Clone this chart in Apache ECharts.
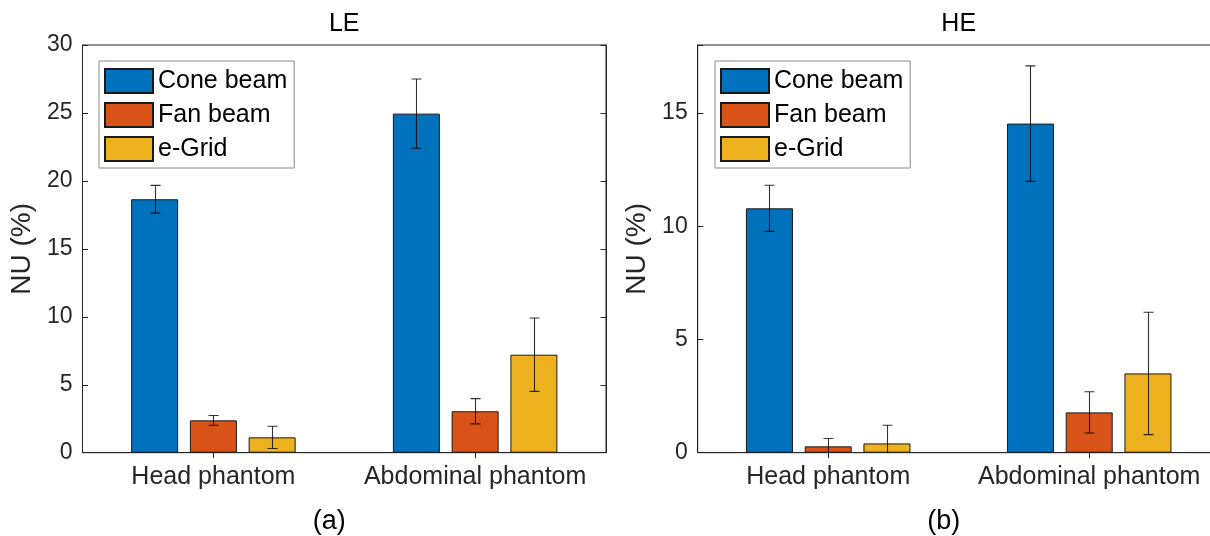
<!DOCTYPE html>
<html>
<head>
<meta charset="utf-8">
<script src="https://cdn.jsdelivr.net/npm/echarts@6/dist/echarts.min.js"></script>
<style>
html,body{margin:0;padding:0;background:#fff;}
#chart{width:1210px;height:536px;}
</style>
</head>
<body>
<div id="chart"></div>
<script>
// ---- data ----
var categories = ['Head phantom', 'Abdominal phantom'];
var seriesNames = ['Cone beam', 'Fan beam', 'e-Grid'];
var panelTitles = ['LE', 'HE'];
var panelLabels = ['(a)', '(b)'];
var yAxisName = 'NU (%)';

var LE_cone = [18.65, 24.95];
var LE_coneErr = [1.02, 2.55];
var LE_fan = [2.38, 3.05];
var LE_fanErr = [0.36, 0.93];
var LE_egrid = [1.13, 7.21];
var LE_egridErr = [0.82, 2.7];

var HE_cone = [10.79, 14.53];
var HE_coneErr = [1.02, 2.55];
var HE_fan = [0.28, 1.78];
var HE_fanErr = [0.35, 0.91];
var HE_egrid = [0.41, 3.50];
var HE_egridErr = [0.80, 2.70];

var LE_yTicks = [0, 5, 10, 15, 20, 25, 30];
var HE_yTicks = [0, 5, 10, 15];
var LE_yMax = 30;
var HE_yMax = 18;

// ---- style ----
var FONT = "'Liberation Sans', Arial, Helvetica, sans-serif";
var colors = ['#0072BD', '#D95319', '#EDB120'];
var AXIS_COLOR = '#262626';
var BAR_W = 47;
var GAP_RATIO = 0.25;
var CAP = 10;

var grids = [
  {left: 82.5, top: 45, width: 523.5, height: 407.7},
  {left: 697.7, top: 45, width: 522, height: 407.7}
];

var panels = [
  {vals: [LE_cone, LE_fan, LE_egrid], errs: [LE_coneErr, LE_fanErr, LE_egridErr], max: LE_yMax, ticks: LE_yTicks},
  {vals: [HE_cone, HE_fan, HE_egrid], errs: [HE_coneErr, HE_fanErr, HE_egridErr], max: HE_yMax, ticks: HE_yTicks}
];

var option = {
  animation: false,
  backgroundColor: '#fff',
  textStyle: {fontFamily: FONT},
  grid: grids.map(function (g) {
    return Object.assign({show: true, borderColor: AXIS_COLOR, borderWidth: 1, containLabel: false,
      outerBoundsMode: 'none', backgroundColor: 'transparent'}, g);
  }),
  xAxis: [],
  yAxis: [],
  series: [],
  legend: [],
  graphic: []
};

panels.forEach(function (p, gi) {
  var tickSet = p.ticks;
  option.xAxis.push({
    type: 'category', gridIndex: gi, data: categories, position: 'bottom',
    axisLine: {show: true, lineStyle: {color: AXIS_COLOR, width: 1}},
    axisTick: {show: true, inside: true, alignWithLabel: true, length: 5.5, lineStyle: {color: AXIS_COLOR}},
    axisLabel: {interval: 0, fontSize: 25, color: AXIS_COLOR, margin: 12, fontFamily: FONT},
    splitLine: {show: false}
  });
  option.xAxis.push({
    type: 'category', gridIndex: gi, data: categories, position: 'top',
    axisLine: {show: true, lineStyle: {color: AXIS_COLOR, width: 1}},
    axisTick: {show: true, inside: true, alignWithLabel: true, interval: 0, length: 5.5, lineStyle: {color: AXIS_COLOR}},
    axisLabel: {show: false},
    splitLine: {show: false}
  });
  option.yAxis.push({
    type: 'value', gridIndex: gi, min: 0, max: p.max, interval: 5, position: 'left',
    axisLine: {show: true, lineStyle: {color: AXIS_COLOR, width: 1}},
    axisTick: {show: true, inside: true, length: 5.5, lineStyle: {color: AXIS_COLOR}},
    axisLabel: {fontSize: 23, color: AXIS_COLOR, margin: 10, fontFamily: FONT,
      formatter: function (v) { return tickSet.indexOf(v) >= 0 ? String(v) : ''; }},
    splitLine: {show: false}
  });
  option.yAxis.push({
    type: 'value', gridIndex: gi, min: 0, max: p.max, interval: 5, position: 'right',
    axisLine: {show: true, lineStyle: {color: AXIS_COLOR, width: 1}},
    axisTick: {show: true, inside: true, length: 5.5, lineStyle: {color: AXIS_COLOR}},
    axisLabel: {show: false},
    splitLine: {show: false}
  });

  var xi = gi * 2, yi = gi * 2;
  seriesNames.forEach(function (name, si) {
    option.series.push({
      type: 'bar', name: name, xAxisIndex: xi, yAxisIndex: yi,
      data: p.vals[si],
      barWidth: BAR_W, barGap: (GAP_RATIO * 100) + '%',
      itemStyle: {color: colors[si], borderColor: '#1a1a1a', borderWidth: 1},
      z: 2
    });
  });
  seriesNames.forEach(function (name, si) {
    var d = p.vals[si].map(function (v, ci) { return [ci, v, p.errs[si][ci]]; });
    option.series.push({
      type: 'custom', name: 'err', xAxisIndex: xi, yAxisIndex: yi,
      data: d, z: 5, clip: true, silent: true,
      renderItem: (function (idx) {
        return function (params, api) {
          var c = api.value(0), v = api.value(1), e = api.value(2);
          var off = (idx - 1) * (BAR_W * (1 + GAP_RATIO));
          var top = api.coord([c, v + e]);
          var bot = api.coord([c, v - e]);
          var x = Math.round(top[0] + off) + 0.5;
          var st = {stroke: 'rgba(0,0,0,0.8)', lineWidth: 1.1};
          return {
            type: 'group',
            children: [
              {type: 'line', shape: {x1: x, y1: top[1], x2: x, y2: bot[1]}, style: st},
              {type: 'line', shape: {x1: x - CAP / 2, y1: top[1], x2: x + CAP / 2, y2: top[1]}, style: st},
              {type: 'line', shape: {x1: x - CAP / 2, y1: bot[1], x2: x + CAP / 2, y2: bot[1]}, style: st}
            ]
          };
        };
      })(si)
    });
  });

  option.legend.push({
    data: seriesNames, orient: 'vertical', selectedMode: false,
    left: gi === 0 ? 99 : 715, top: 61,
    icon: 'rect',
    itemWidth: 48, itemHeight: 24, itemGap: 8,
    padding: [7, 7, 6, 5],
    backgroundColor: '#fff', borderColor: '#888', borderWidth: 1,
    textStyle: {fontSize: 25, color: '#000', fontFamily: FONT}
  });

  var g = grids[gi];
  var cx = g.left + g.width / 2;
  option.graphic.push({
    type: 'text', x: cx, y: 24,
    style: {text: panelTitles[gi], fontSize: 25, fontFamily: FONT, fill: '#000', align: 'center', verticalAlign: 'middle'}
  });
  option.graphic.push({
    type: 'text', x: cx - 15, y: 522,
    style: {text: panelLabels[gi], fontSize: 27, fontFamily: FONT, fill: '#000', align: 'center', verticalAlign: 'middle'}
  });
  option.graphic.push({
    type: 'text', x: g.left - 60, y: g.top + g.height / 2, rotation: Math.PI / 2,
    style: {text: yAxisName, fontSize: 28, fontFamily: FONT, fill: AXIS_COLOR, align: 'center', verticalAlign: 'middle'}
  });
});

var chart = echarts.init(document.getElementById('chart'), null, {renderer: 'canvas'});
chart.setOption(option);
</script>
</body>
</html>
